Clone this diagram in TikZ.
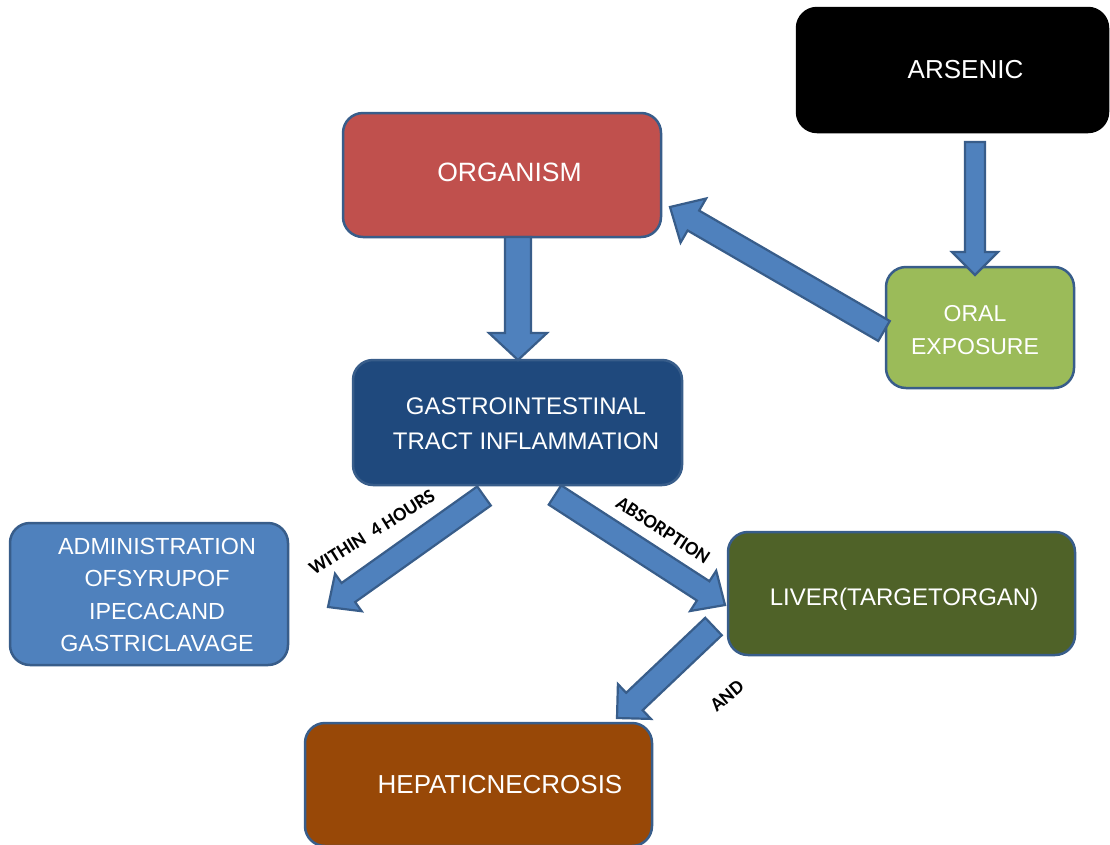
\documentclass[tikz,border=0pt]{standalone}
\usepackage{fontspec}
\setmainfont{Liberation Sans}
\newfontfamily\lblfont{Carlito}
\usetikzlibrary{calc}
\definecolor{bordr}{HTML}{385D8A}
\definecolor{arrfill}{HTML}{4F81BD}
\definecolor{orgred}{HTML}{C0504D}
\definecolor{oralgreen}{HTML}{9BBB59}
\definecolor{gidblue}{HTML}{1F497D}
\definecolor{admblue}{HTML}{4F81BD}
\definecolor{livgreen}{HTML}{4F6228}
\definecolor{hepbrown}{HTML}{984807}
\tikzset{
  box/.style={draw=bordr, line width=2.5pt, rounded corners=20pt, rectangle, inner sep=0pt},
  boxtext/.style={text=white, inner sep=0pt, align=center},
  blockarr/.style={fill=arrfill, draw=bordr, line width=2.2pt, line join=miter},
  lbl/.style={font=\lblfont\bfseries\fontsize{19.5}{22}\selectfont, inner sep=0pt}
}
% #1 name, #2 from, #3 to, #4 half shaft, #5 half head, #6 head length
\newcommand\blockarrow[6]{%
  \coordinate (#1-h) at ($(#3)!#6pt!(#2)$);
  \draw[blockarr] ($(#2)!#4pt!90:(#3)$) -- ($(#1-h)!#4pt!90:(#3)$) -- ($(#1-h)!#5pt!90:(#3)$)
    -- (#3) -- ($(#1-h)!#5pt!-90:(#3)$) -- ($(#1-h)!#4pt!-90:(#3)$) -- ($(#2)!#4pt!-90:(#3)$) -- cycle;
}
\begin{document}
\begin{tikzpicture}[x=1pt,y=-1pt]
\useasboundingbox (0,0) rectangle (1110,844);
\clip (0,0) rectangle (1110,844);
\fill[white] (0,0) rectangle (1110,844);

% boxes
\node[box, draw=black, fill=black, minimum width=311pt, minimum height=124pt] (arsenic) at (952.5,70) {};
\node[box, fill=orgred, minimum width=318pt, minimum height=124pt] (organism) at (502,175) {};
\node[box, fill=oralgreen, minimum width=188pt, minimum height=121pt] (oral) at (980,327.5) {};
\node[box, fill=gidblue, minimum width=329pt, minimum height=125pt] (gi) at (517.5,422.5) {};
\node[box, fill=admblue, minimum width=278pt, minimum height=142pt] (admin) at (149,594) {};
\node[box, fill=livgreen, minimum width=347pt, minimum height=123pt] (liver) at (901.5,593.5) {};
\node[box, fill=hepbrown, minimum width=347pt, minimum height=123pt] (hepatic) at (478.5,784.5) {};

% texts
\node[boxtext, anchor=base, font=\fontsize{26}{31}\selectfont] (arsenic-t) at (965.5,78) {ARSENIC};
\node[boxtext, anchor=base, font=\fontsize{26.5}{31}\selectfont] (organism-t) at (509.5,181.7) {ORGANISM};
\node[boxtext, font=\fontsize{23}{33}\selectfont] (oral-t) at (975,330) {ORAL\\EXPOSURE};
\node[boxtext, font=\fontsize{24}{35}\selectfont] (gi-t) at (526,423.5) {GASTROINTESTINAL\\TRACT INFLAMMATION};
\node[boxtext, font=\fontsize{23.3}{32.3}\selectfont] (admin-t) at (157,595) {ADMINISTRATION\\OFSYRUPOF\\IPECACAND\\GASTRICLAVAGE};
\node[boxtext, anchor=base, font=\fontsize{24}{29}\selectfont] (liver-t) at (904,605) {LIVER(TARGETORGAN)};
\node[boxtext, anchor=base, font=\fontsize{26}{31}\selectfont] (hepatic-t) at (500,793) {HEPATICNECROSIS};

% arrow end points
\coordinate (a1s) at (975,142);   \coordinate (a1e) at (975,275);
\coordinate (a2s) at (884,331);   \coordinate (a2e) at (670,207);
\coordinate (a3s) at (518,237);   \coordinate (a3e) at (518,360);
\coordinate (a4s) at (484,496);   \coordinate (a4e) at (328,607);
\coordinate (a5s) at (555,495);   \coordinate (a5e) at (725,605);
\coordinate (a6s) at (713.5,626.5); \coordinate (a6e) at (617,718);

\blockarrow{a1}{a1s}{a1e}{10}{23}{23}
\blockarrow{a2}{a2s}{a2e}{11.5}{25.5}{27}
\blockarrow{a3}{a3s}{a3e}{13}{29}{27}
\blockarrow{a4}{a4s}{a4e}{11.7}{23}{25}
\blockarrow{a5}{a5s}{a5e}{11.5}{24}{26}
\blockarrow{a6}{a6s}{a6e}{12}{24}{24}

% labels
\node[lbl, rotate=32] (within) at (372,532) {WITHIN\ \ 4 HOURS};
\node[lbl, rotate=-33] (absorption) at (663,530) {ABSORPTION};
\node[lbl, rotate=40] (and) at (727,696) {AND};
\end{tikzpicture}
\end{document}
